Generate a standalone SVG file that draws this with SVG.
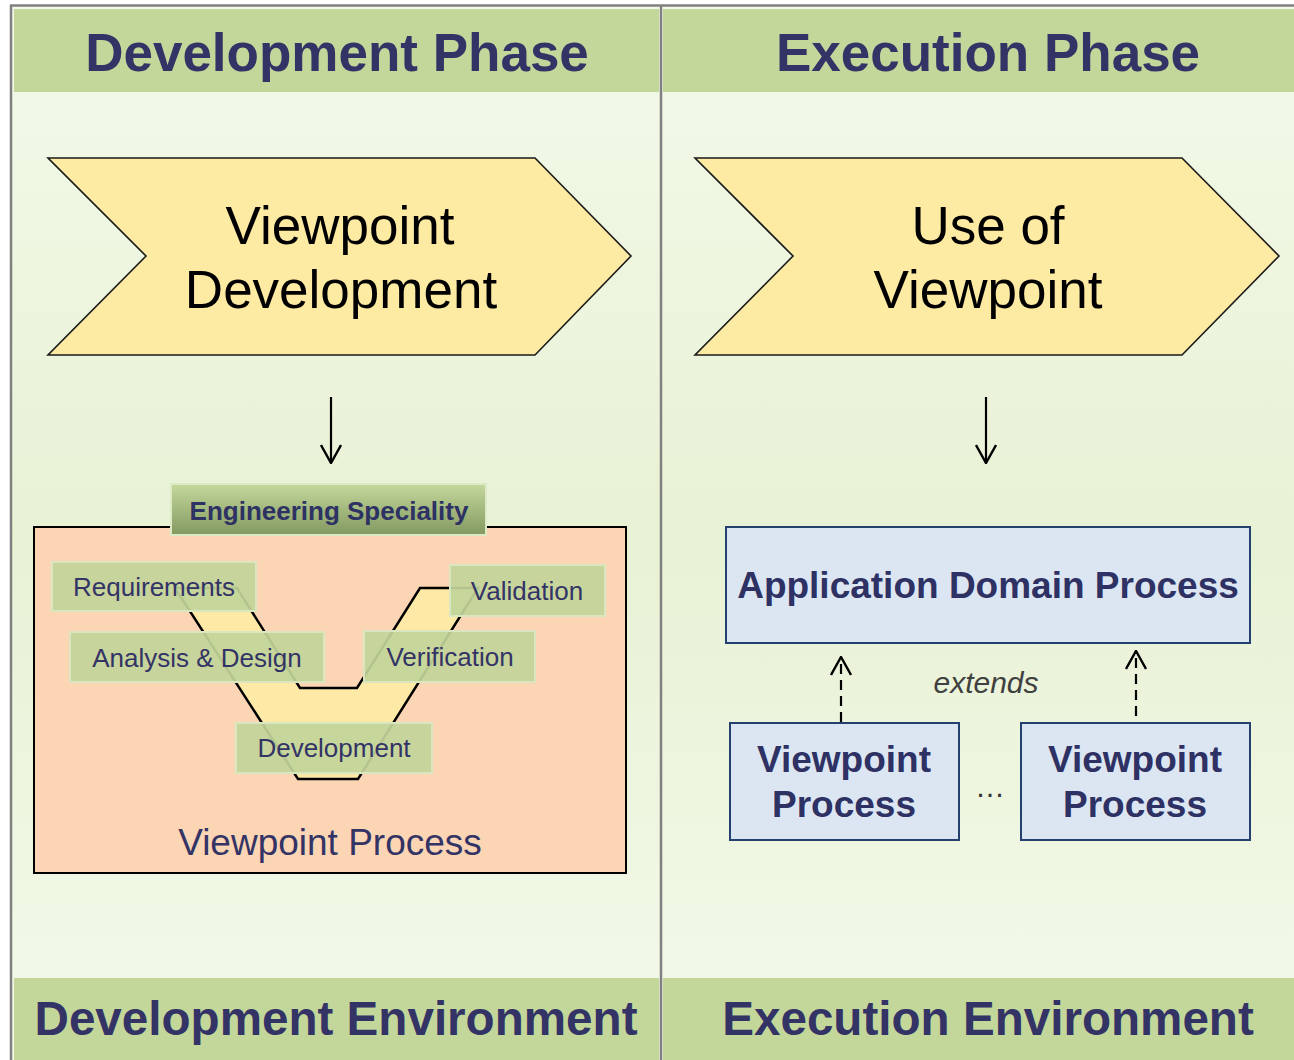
<svg xmlns="http://www.w3.org/2000/svg" width="1294" height="1060" viewBox="0 0 1294 1060">
<defs>
<linearGradient id="bodyGrad" x1="0" y1="0" x2="0" y2="1">
<stop offset="0" stop-color="#f3f9ea"/>
<stop offset="0.5" stop-color="#e8f2d5"/>
<stop offset="1" stop-color="#f3f9ea"/>
</linearGradient>
<linearGradient id="tabGrad" x1="0" y1="0" x2="0" y2="1">
<stop offset="0" stop-color="#c5d89d"/>
<stop offset="1" stop-color="#82995f"/>
</linearGradient>
<marker id="openArrow" viewBox="0 0 20 22" refX="19" refY="11" markerWidth="20" markerHeight="22" markerUnits="userSpaceOnUse" orient="auto">
<path d="M1,1 L19,11 L1,21" fill="none" stroke="#000" stroke-width="2.4"/>
</marker>
</defs>
<style>
.band{fill:#c4d79b;}
.title{font-family:"Liberation Sans",Arial,sans-serif;font-weight:bold;fill:#333366;text-anchor:middle;}
.chev{fill:#fdeaa3;stroke:#1a1a1a;stroke-width:1.6;}
.chevText{font-family:"Liberation Sans",Arial,sans-serif;font-size:53px;fill:#000;text-anchor:middle;}
.lbl{fill:#c2d59a;fill-opacity:0.92;stroke:#d9e6bf;stroke-width:2;}
.lblText{font-family:"Liberation Sans",Arial,sans-serif;font-size:26px;fill:#333366;text-anchor:middle;}
.blue{fill:#dce6f2;stroke:#24406e;stroke-width:2;}
.blueText{font-family:"Liberation Sans",Arial,sans-serif;font-weight:bold;fill:#2e3163;text-anchor:middle;}
.arrow{stroke:#000;stroke-width:2.2;fill:none;}
</style>

<!-- background and frame -->
<rect x="0" y="0" width="1294" height="1060" fill="#ffffff"/>
<rect x="12" y="6" width="1282" height="1054" fill="url(#bodyGrad)"/>
<line x1="10" y1="5.5" x2="1294" y2="5.5" stroke="#808080" stroke-width="2.5"/>
<line x1="11" y1="5" x2="11" y2="1060" stroke="#808080" stroke-width="2.5"/>
<line x1="661" y1="6" x2="661" y2="1060" stroke="#808080" stroke-width="2.5"/>

<g id="header-dev">
<rect class="band" x="14" y="9" width="645" height="83"/>
<text class="title" x="337" y="71" font-size="53">Development Phase</text>
</g>
<g id="header-exec">
<rect class="band" x="663" y="9" width="631" height="83"/>
<text class="title" x="988" y="71" font-size="53">Execution Phase</text>
</g>
<g id="footer-dev">
<rect class="band" x="14" y="978" width="645" height="82"/>
<text class="title" x="336" y="1035" font-size="47.6">Development Environment</text>
</g>
<g id="footer-exec">
<rect class="band" x="663" y="978" width="631" height="82"/>
<text class="title" x="988" y="1035" font-size="47.6">Execution Environment</text>
</g>

<g id="chevron-dev">
<polygon class="chev" points="48,158 535,158 631,256 535,355 48,355 146,256"/>
<text class="chevText" x="340" y="244">Viewpoint</text>
<text class="chevText" x="341" y="308">Development</text>
</g>
<g id="chevron-exec">
<polygon class="chev" points="695,158 1182,158 1279,256 1182,355 695,355 793,256"/>
<text class="chevText" x="988" y="244">Use of</text>
<text class="chevText" x="988" y="308">Viewpoint</text>
</g>

<g id="viewpoint-process-box">
<rect x="34" y="527" width="592" height="346" fill="#fcd5b4" stroke="#000" stroke-width="2"/>
<text x="330" y="855" font-family="'Liberation Sans',Arial,sans-serif" font-size="37" fill="#333366" text-anchor="middle">Viewpoint Process</text>
</g>

<g id="engineering-speciality">
<rect x="171" y="484" width="315" height="51" fill="url(#tabGrad)" stroke="#deeac6" stroke-width="2"/>
<text class="blueText" x="329" y="520" font-size="26">Engineering Speciality</text>
</g>

<g id="v-model">
<polygon points="175,588 237,588 300,688 357,688 420,588 478,588 358,779 298,779" fill="#fee9a6" stroke="#000" stroke-width="2.5" stroke-linejoin="miter"/>
</g>

<g id="lbl-requirements">
<rect class="lbl" x="52" y="562" width="204" height="49"/>
<text class="lblText" x="154" y="596">Requirements</text>
</g>
<g id="lbl-analysis">
<rect class="lbl" x="70" y="632" width="254" height="50"/>
<text class="lblText" x="197" y="667">Analysis &amp; Design</text>
</g>
<g id="lbl-validation">
<rect class="lbl" x="450" y="565" width="155" height="51"/>
<text class="lblText" x="527" y="600">Validation</text>
</g>
<g id="lbl-verification">
<rect class="lbl" x="364" y="631" width="171" height="51"/>
<text class="lblText" x="450" y="666">Verification</text>
</g>
<g id="lbl-development">
<rect class="lbl" x="236" y="723" width="196" height="50"/>
<text class="lblText" x="334" y="757">Development</text>
</g>

<g id="app-domain-process">
<rect class="blue" x="726" y="527" width="524" height="116"/>
<text class="blueText" x="988" y="598" font-size="37">Application Domain Process</text>
</g>
<g id="viewpoint-process-1">
<rect class="blue" x="730" y="723" width="229" height="117"/>
<text class="blueText" x="844" y="772" font-size="37">Viewpoint</text>
<text class="blueText" x="844" y="817" font-size="37">Process</text>
</g>
<g id="viewpoint-process-2">
<rect class="blue" x="1021" y="723" width="229" height="117"/>
<text class="blueText" x="1135" y="772" font-size="37">Viewpoint</text>
<text class="blueText" x="1135" y="817" font-size="37">Process</text>
</g>
<text x="992" y="797" font-family="'Liberation Sans',Arial,sans-serif" font-size="30" fill="#333333" text-anchor="middle" letter-spacing="4">…</text>
<text x="986" y="693" font-family="'Liberation Sans',Arial,sans-serif" font-size="30" font-style="italic" fill="#404040" text-anchor="middle">extends</text>

<g id="connectors">
<line class="arrow" x1="331" y1="397" x2="331" y2="463" marker-end="url(#openArrow)"/>
<line class="arrow" x1="986" y1="397" x2="986" y2="463" marker-end="url(#openArrow)"/>
<line class="arrow" x1="841" y1="722" x2="841" y2="657" stroke-dasharray="10,6" marker-end="url(#openArrow)"/>
<line class="arrow" x1="1136" y1="716" x2="1136" y2="651" stroke-dasharray="10,6" marker-end="url(#openArrow)"/>
</g>
</svg>
